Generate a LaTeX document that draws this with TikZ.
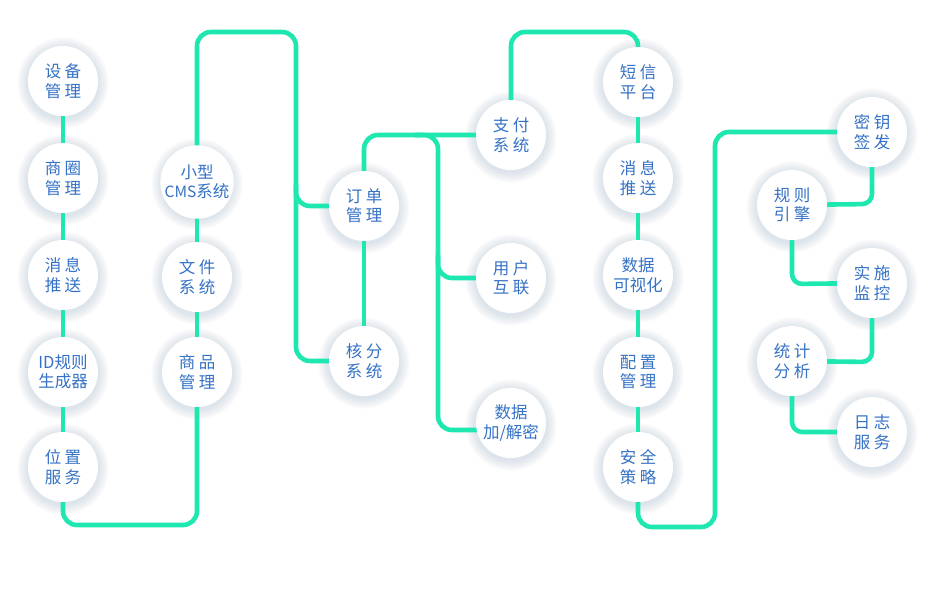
\documentclass[tikz,border=0pt]{standalone}
\usepackage{fontspec}
\newfontfamily\cjk{Noto Sans CJK SC}
\definecolor{linec}{HTML}{1EE8B0}
\definecolor{txtc}{HTML}{3572C6}
\definecolor{shc}{HTML}{9AAECC}
\newcommand\gp{\hspace{3.5pt}}
\pgfdeclarelayer{shadowlayer}
\pgfdeclarelayer{linelayer}
\pgfsetlayers{shadowlayer,linelayer,main}
\tikzset{
  circ/.style={circle, minimum size=70pt, inner sep=0pt, fill=white, text=txtc, align=center,
    font=\cjk\fontsize{16.5}{19.5}\selectfont},
  conn/.style={draw=linec, line width=4.6pt, rounded corners=14pt},
  connS/.style={draw=linec, line width=4.6pt, rounded corners=10pt},
}
\begin{document}
\begin{tikzpicture}[x=1pt,y=-1pt]
\useasboundingbox (0,0) rectangle (933,599);
% column 1
\node[circ] (n11) at (63,81) {设\gp 备\\管\gp 理};
\node[circ] (n12) at (63,178) {商\gp 圈\\管\gp 理};
\node[circ] (n13) at (63,275) {消\gp 息\\推\gp 送};
\node[circ] (n14) at (63,372) {ID规则\\生成器};
\node[circ] (n15) at (63,467) {位\gp 置\\服\gp 务};
% column 2
\node[circ] (n21) at (197,182) {小型\\{\fontsize{15.5}{19.5}\selectfont CMS}系统};
\node[circ] (n22) at (197,277) {文\gp 件\\系\gp 统};
\node[circ] (n23) at (197,372) {商\gp 品\\管\gp 理};
% column 3
\node[circ] (n31) at (364,206) {订\gp 单\\管\gp 理};
\node[circ] (n32) at (364,361) {核\gp 分\\系\gp 统};
% column 4
\node[circ] (n41) at (511,135) {支\gp 付\\系\gp 统};
\node[circ] (n42) at (511,278) {用\gp 户\\互\gp 联};
\node[circ] (n43) at (511,423) {数据\\加/解密};
% column 5
\node[circ] (n51) at (638,82) {短\gp 信\\平\gp 台};
\node[circ] (n52) at (638,178) {消\gp 息\\推\gp 送};
\node[circ] (n53) at (638,275) {数据\\可视化};
\node[circ] (n54) at (638,372) {配\gp 置\\管\gp 理};
\node[circ] (n55) at (638,467) {安\gp 全\\策\gp 略};
% column 6
\node[circ] (n61) at (872,132) {密\gp 钥\\签\gp 发};
\node[circ] (n62) at (792,205) {规\gp 则\\引\gp 擎};
\node[circ] (n63) at (872,283) {实\gp 施\\监\gp 控};
\node[circ] (n64) at (792,361) {统\gp 计\\分\gp 析};
\node[circ] (n65) at (872,432) {日\gp 志\\服\gp 务};

\begin{pgfonlayer}{shadowlayer}
\fill[white] (0,0) rectangle (933,599);
\foreach \n in {n11,n12,n13,n14,n15,n21,n22,n23,n31,n32,n41,n42,n43,n51,n52,n53,n54,n55,n61,n62,n63,n64,n65}{
  \foreach \k in {1,...,12}{
    \fill[shc, opacity=0.028] ([yshift=-2pt]\n.center) circle (35+\k*0.9);
  }
}
\end{pgfonlayer}

\begin{pgfonlayer}{linelayer}
% column 1
\draw[conn] (n11.center) -- (n12.center) -- (n13.center) -- (n14.center) -- (n15.center);
\draw[conn] (n15.center) -- (63,525) -- (197,525) -- (n23.center);
% column 2
\draw[conn] (n23.center) -- (n22.center) -- (n21.center);
\draw[conn] (n21.center) -- (197,32) -- (296,32) -- (296,361) -- (n32.center);
\draw[conn] (296,185) -- (296,206) -- (n31.center);
% column 3
\draw[conn] (n32.center) -- (n31.center);
\draw[conn] (n31.center) -- (364,135) -- (n41.center);
\draw[conn] (415,135) -- (438,135) -- (438,430) -- ([yshift=-7pt]n43.center);
\draw[conn] (438,255) -- (438,278) -- (n42.center);
% column 4 to 5
\draw[conn] (n41.center) -- (511,32) -- (638,32) -- (n51.center);
\draw[conn] (n51.center) -- (n52.center) -- (n53.center) -- (n54.center) -- (n55.center);
\draw[conn] (n55.center) -- (638,527) -- (715,527) -- (715,132) -- (n61.center);
% column 6 zigzag
\draw[connS] (n61.center) -- (872,204) -- (n62.center);
\draw[connS] (n62.center) -- (792,284) -- (n63.center);
\draw[connS] (n63.center) -- (872,362) -- (n64.center);
\draw[connS] (n64.center) -- (792,432) -- (n65.center);
\end{pgfonlayer}
\end{tikzpicture}
\end{document}
